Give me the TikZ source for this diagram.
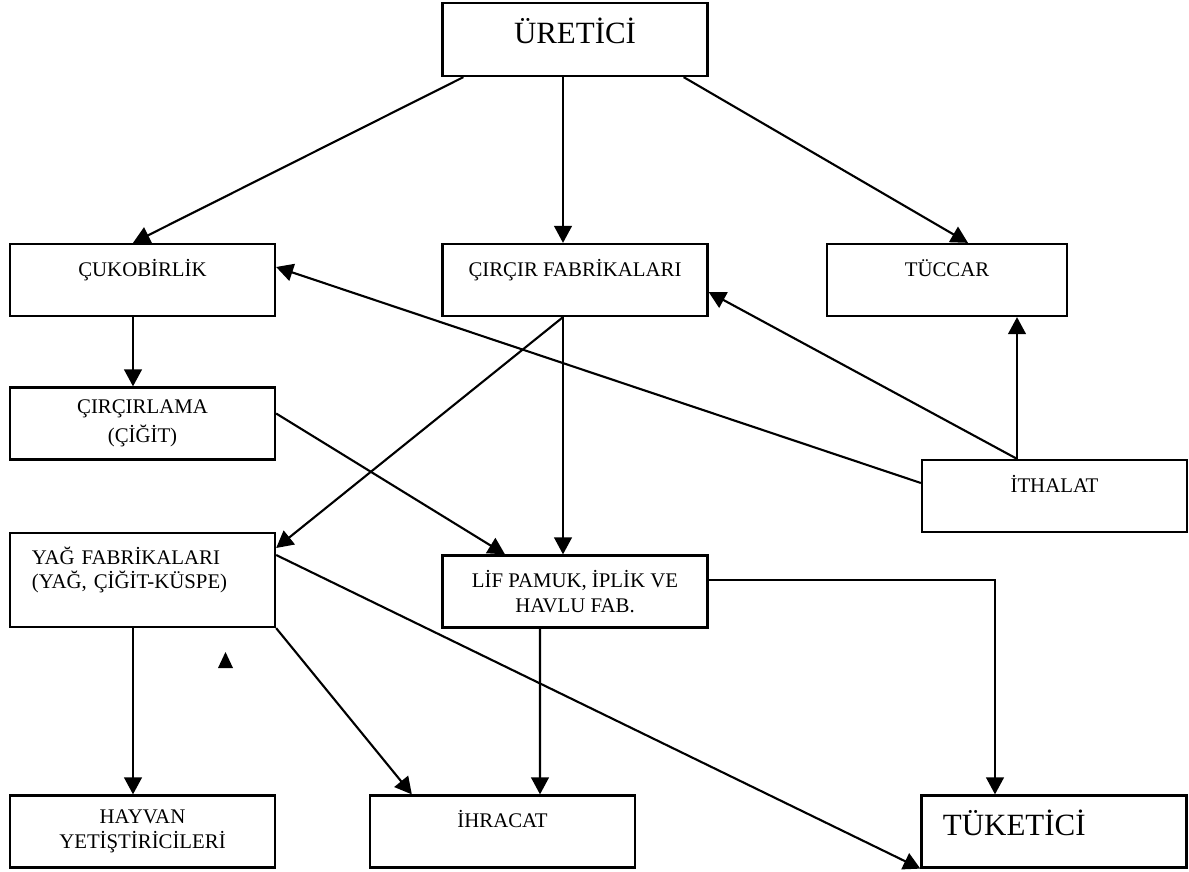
\documentclass[tikz,border=0pt]{standalone}
\usepackage{fontspec}
\setmainfont{Liberation Serif}
\usetikzlibrary{arrows.meta,calc}
\begin{document}
\begin{tikzpicture}[x=0.025cm, y=-0.025cm, ->, >={Triangle[length=12pt,width=12.5pt]}, line width=1.5pt,
  box node/.style={draw, line width=1.6pt, inner sep=0pt, minimum width=6.625cm, minimum height=1.8cm, align=center, font=\fontsize{14.8}{17.5}\selectfont},
  big node/.style={box node, font=\fontsize{22}{26}\selectfont, text height=0.6cm, text depth=0.4cm}]
\useasboundingbox (0,0) rectangle (1189,872);

\node[big node, minimum height=1.825cm]                        (uretici)    at (575,39.5)    {ÜRETİCİ};
\node[box node]                                                (cukobirlik) at (142.5,280)   {ÇUKOBİRLİK\\~};
\node[box node]                                                (circir)     at (575,280)     {ÇIRÇIR FABRİKALARI\\~};
\node[box node, minimum width=6cm]                             (tuccar)     at (947,280)     {TÜCCAR\\~};
\node[box node]                                                (circirlama) at (142.5,423.5) {ÇIRÇIRLAMA\\[3pt](ÇİĞİT)};
\node[box node]                                                (ithalat)    at (1054.5,496)  {İTHALAT\\~};
\node[box node, minimum height=2.35cm, text width=5.525cm, align=left] (yag) at (142.5,580) {YAĞ FABRİKALARI\\(YAĞ, ÇİĞİT-KÜSPE)\\~};
\node[box node]                                                (lif)        at (575,591.5)   {LİF PAMUK, İPLİK VE\\HAVLU FAB.};
\node[box node]                                                (hayvan)     at (142.5,831.5) {HAYVAN\\YETİŞTİRİCİLERİ};
\node[box node]                                                (ihracat)    at (502.5,831.5) {İHRACAT\\~};
\node[big node, text width=5.55cm, align=left]                 (tuketici)   at (1054,831.5)  {TÜKETİCİ};

% from the producer
\draw ($(uretici.south west)+(22,0)$) -- ($(cukobirlik.north)+(-9.5,0)$);
\draw ($(uretici.south)+(-12,0)$)     -- ($(circir.north)+(-12,0)$);
\draw ($(uretici.south east)+(-25,0)$) -- ($(tuccar.north)+(21,0)$);
\draw ($(cukobirlik.south)+(-9.5,0)$) -- ($(circirlama.north)+(-9.5,0)$);
% imports
\draw ($(ithalat.west)+(0,-13)$)      -- ($(cukobirlik.east)+(0,-13)$);
\draw ($(ithalat.north)+(-37.5,0)$)   -- ($(circir.east)+(0,12)$);
\draw ($(ithalat.north)+(-37.5,0)$)   -- ($(tuccar.south)+(70,0)$);
% gin factories
\draw ($(circir.south)+(-12,0)$)      -- ($(yag.east)+(0,-32)$);
\draw ($(circir.south)+(-12,0)$)      -- ($(lif.north)+(-12,0)$);
\draw ($(circirlama.east)+(0,-10)$)   -- ($(lif.north)+(-70,0)$);
% oil and fibre
\draw ($(yag.east)+(0,-25)$)          -- (tuketici.south west);
\draw ($(yag.south)+(-9.5,0)$)        -- ($(hayvan.north)+(-9.5,0)$);
\draw (yag.south east)                -- ($(ihracat.north west)+(43,0)$);
\draw ($(lif.south)+(-35,0)$)         -- ($(ihracat.north)+(37.5,0)$);
\draw ($(lif.east)+(0,-11.5)$)        -| ($(tuketici.north)+(-59,0)$);

\fill[-] (218,668) -- (233,668) -- (225.5,652) -- cycle;
\end{tikzpicture}
\end{document}
